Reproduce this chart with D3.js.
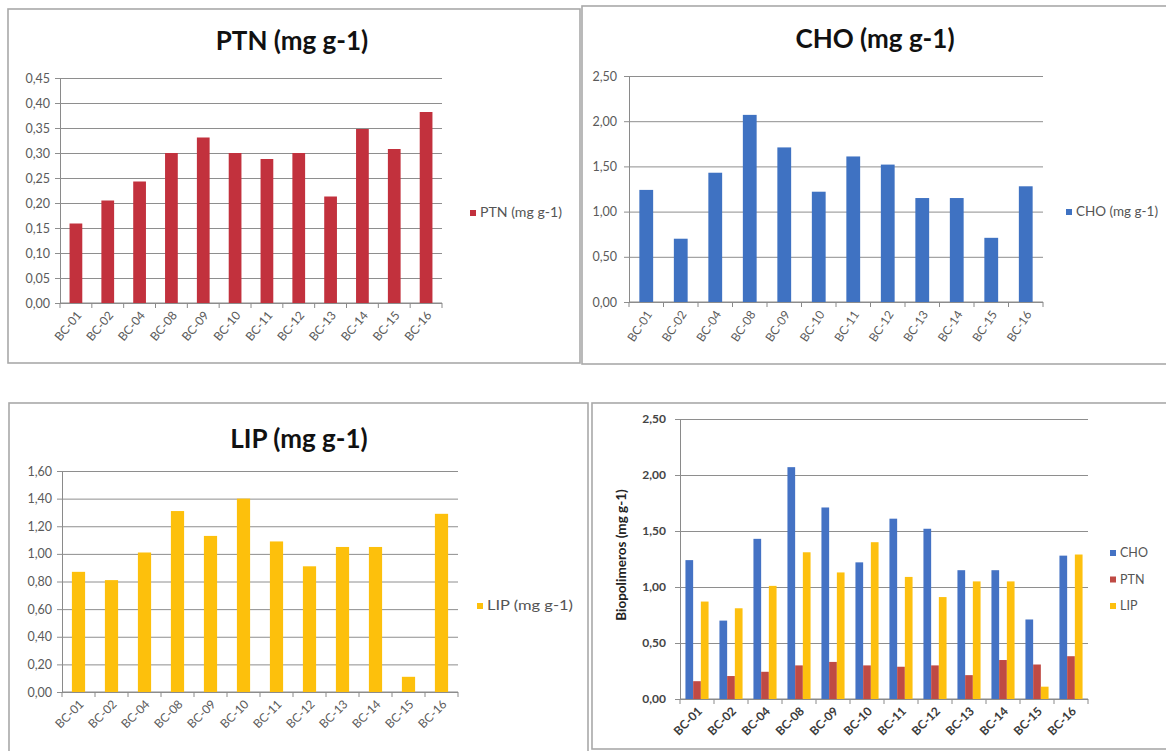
<!DOCTYPE html>
<html>
<head>
<meta charset="utf-8">
<script src="https://cdn.jsdelivr.net/npm/d3@7"></script>
<style>
  html, body { margin: 0; padding: 0; background: #ffffff; }
  svg { display: block; font-family: Lato, "Open Sans", sans-serif; }
</style>
</head>
<body>
<svg id="chart" width="1166" height="751"></svg>
<script>
// Sampling stations
const samples = ["BC-01", "BC-02", "BC-04", "BC-08", "BC-09", "BC-10", "BC-11", "BC-12", "BC-13", "BC-14", "BC-15", "BC-16"];

// Biopolymer concentrations (mg g-1)
const ptnValues = [0.159, 0.205, 0.243, 0.300, 0.331, 0.300, 0.288, 0.300, 0.213, 0.348, 0.308, 0.382];
const choValues = [1.24, 0.70, 1.43, 2.07, 1.71, 1.22, 1.61, 1.52, 1.15, 1.15, 0.71, 1.28];
const lipValues = [0.87, 0.81, 1.01, 1.31, 1.13, 1.40, 1.09, 0.91, 1.05, 1.05, 0.11, 1.29];

// Y-axis tick values
const ptnTicks = [0, 0.05, 0.10, 0.15, 0.20, 0.25, 0.30, 0.35, 0.40, 0.45];
const choTicks = [0, 0.50, 1.00, 1.50, 2.00, 2.50];
const lipTicks = [0, 0.20, 0.40, 0.60, 0.80, 1.00, 1.20, 1.40, 1.60];
const allTicks = [0, 0.50, 1.00, 1.50, 2.00, 2.50];

// Series of the combined chart
const seriesNames = ["CHO", "PTN", "LIP"];
const seriesLabels = ["CHO (mg g-1)", "PTN (mg g-1)", "LIP (mg g-1)"];

const svg = d3.select("#chart");
const locale = d3.formatLocale({ decimal: ",", thousands: ".", grouping: [3], currency: ["", ""] });
const fmt = locale.format(".2f");

const gridColor = "#8e8e8e";
const axisColor = "#8a8a8a";
const tickText = "#5a5a5a";
const frameColor = "#a9a9a9";

svg.append("rect").attr("width", 1166).attr("height", 751).attr("fill", "#fff");

function frame(box) {
  svg.append("rect")
    .attr("x", box[0]).attr("y", box[1]).attr("width", box[2]).attr("height", box[3])
    .attr("fill", "none").attr("stroke", frameColor).attr("stroke-width", 1.6);
}

function drawAxes(g, x, y, ticks, cfg) {
  const width = cfg.x1 - cfg.x0;
  // value axis with horizontal gridlines
  const yAxis = d3.axisLeft(y).tickValues(ticks).tickFormat(fmt)
    .tickSizeInner(-width).tickSizeOuter(0).tickPadding(cfg.tickPad);
  const ya = g.append("g").attr("transform", `translate(${cfg.x0},0)`).call(yAxis);
  ya.select(".domain").attr("stroke", axisColor).attr("stroke-width", 1);
  ya.selectAll(".tick line").attr("x1", -5).attr("stroke", gridColor).attr("stroke-width", 1);
  ya.selectAll(".tick text")
    .attr("fill", cfg.tickColor || tickText)
    .attr("font-size", cfg.tickSize)
    .attr("font-weight", cfg.tickWeight || "normal")
    .attr("font-family", "Lato, sans-serif");

  // category axis: baseline plus tick marks on the cell boundaries
  const xa = g.append("g");
  xa.append("line")
    .attr("x1", cfg.x0).attr("x2", cfg.x1)
    .attr("y1", y(0)).attr("y2", y(0))
    .attr("stroke", axisColor).attr("stroke-width", 1);
  const edges = d3.range(samples.length + 1).map(i => x.range()[0] + i * x.step());
  xa.selectAll("line.edge").data(edges).join("line")
    .attr("class", "edge")
    .attr("x1", d => d).attr("x2", d => d)
    .attr("y1", y(0)).attr("y2", y(0) + 5)
    .attr("stroke", axisColor).attr("stroke-width", 1);

  xa.selectAll("text").data(samples).join("text")
    .attr("transform", d => `translate(${x(d) + x.bandwidth() / 2 + cfg.labelShift},${y(0) + 10}) rotate(${-cfg.labelAngle})`)
    .attr("text-anchor", "end")
    .attr("dy", "0.35em")
    .attr("font-size", cfg.labelSize)
    .attr("font-weight", cfg.labelWeight || "normal")
    .attr("fill", cfg.labelColor || tickText)
    .text(d => d);
}

function singlePanel(cfg) {
  frame(cfg.box);
  const g = svg.append("g");
  const x = d3.scaleBand().domain(samples).range([cfg.x0, cfg.x1])
    .paddingInner(cfg.gap).paddingOuter(cfg.gap / 2);
  const y = d3.scaleLinear().domain([0, d3.max(cfg.ticks)]).range([cfg.yBottom, cfg.yTop]);

  drawAxes(g, x, y, cfg.ticks, cfg);

  g.append("g").selectAll("rect").data(cfg.values).join("rect")
    .attr("x", (d, i) => x(samples[i]))
    .attr("width", x.bandwidth())
    .attr("y", d => y(d))
    .attr("height", d => y(0) - y(d))
    .attr("fill", cfg.color);

  g.append("text")
    .attr("x", cfg.titleX).attr("y", cfg.titleY)
    .attr("text-anchor", "middle")
    .attr("font-size", 26).attr("font-weight", "bold").attr("fill", "#111")
    .text(cfg.title);

  g.append("rect")
    .attr("x", cfg.legendX).attr("y", cfg.legendY - 3)
    .attr("width", 6).attr("height", 6).attr("fill", cfg.color);
  g.append("text")
    .attr("x", cfg.legendX + 10).attr("y", cfg.legendY)
    .attr("dy", "0.35em")
    .attr("font-size", 12.5).attr("fill", "#555")
    .attr("textLength", cfg.legendLen).attr("lengthAdjust", "spacingAndGlyphs")
    .text(cfg.title);
}

// PTN
singlePanel({
  box: [8, 9, 572, 354], x0: 60, x1: 442, yTop: 78, yBottom: 303,
  ticks: ptnTicks, values: ptnValues, color: "#c2313d", gap: 0.6,
  title: seriesLabels[1], titleX: 292, titleY: 50,
  legendX: 470, legendY: 213, legendLen: 82,
  tickPad: 10, tickSize: 12.5, labelSize: 12, labelAngle: 50, labelShift: 3
});

// CHO
singlePanel({
  box: [582, 6, 600, 358], x0: 629, x1: 1043, yTop: 76, yBottom: 302,
  ticks: choTicks, values: choValues, color: "#3f72c2", gap: 0.6,
  title: seriesLabels[0], titleX: 875, titleY: 48,
  legendX: 1066, legendY: 212, legendLen: 82,
  tickPad: 12, tickSize: 12.5, labelSize: 12, labelAngle: 56, labelShift: 3
});

// LIP
singlePanel({
  box: [9, 403, 579, 352], x0: 62, x1: 458, yTop: 471, yBottom: 692,
  ticks: lipTicks, values: lipValues, color: "#fdc00c", gap: 0.6,
  title: seriesLabels[2], titleX: 299, titleY: 448,
  legendX: 477, legendY: 606, legendLen: 86,
  tickPad: 10, tickSize: 12.5, labelSize: 12, labelAngle: 45, labelShift: 3
});

// Combined chart of the three biopolymers
(function combined() {
  const cfg = {
    box: [592, 403, 600, 346], x0: 680, x1: 1088, yTop: 419, yBottom: 699,
    tickPad: 14, tickSize: 12, tickWeight: "bold", tickColor: "#444",
    labelSize: 12, labelWeight: "bold", labelColor: "#3a3a3a", labelAngle: 45, labelShift: 3
  };
  const colors = ["#4472c4", "#bf4a44", "#fdc00f"];
  const valuesBySeries = [choValues, ptnValues, lipValues];
  frame(cfg.box);
  const g = svg.append("g");
  const x = d3.scaleBand().domain(samples).range([cfg.x0, cfg.x1]).paddingInner(0.32).paddingOuter(0.16);
  const xs = d3.scaleBand().domain(seriesNames).range([0, x.bandwidth()]);
  const y = d3.scaleLinear().domain([0, d3.max(allTicks)]).range([cfg.yBottom, cfg.yTop]);

  drawAxes(g, x, y, allTicks, cfg);

  const rows = samples.map((s, i) => seriesNames.map((n, k) => ({ sample: s, series: n, value: valuesBySeries[k][i], color: colors[k] })));
  g.append("g").selectAll("g").data(rows).join("g")
    .attr("transform", d => `translate(${x(d[0].sample)},0)`)
    .selectAll("rect").data(d => d).join("rect")
    .attr("x", d => xs(d.series))
    .attr("width", xs.bandwidth())
    .attr("y", d => y(d.value))
    .attr("height", d => y(0) - y(d.value))
    .attr("fill", d => d.color);

  g.append("text")
    .attr("transform", `translate(621,555) rotate(-90)`)
    .attr("text-anchor", "middle").attr("dy", "0.35em")
    .attr("font-size", 13.5).attr("font-weight", "bold").attr("fill", "#222")
    .text("Biopolimeros (mg g-1)");

  const legend = g.append("g").selectAll("g").data(seriesNames).join("g")
    .attr("transform", (d, i) => `translate(1110,${553 + i * 26.5})`);
  legend.append("rect").attr("x", 0).attr("y", -3).attr("width", 6).attr("height", 6)
    .attr("fill", (d, i) => colors[i]);
  legend.append("text").attr("x", 10).attr("dy", "0.35em")
    .attr("font-size", 12.5).attr("fill", "#555").text(d => d);
})();
</script>
</body>
</html>
